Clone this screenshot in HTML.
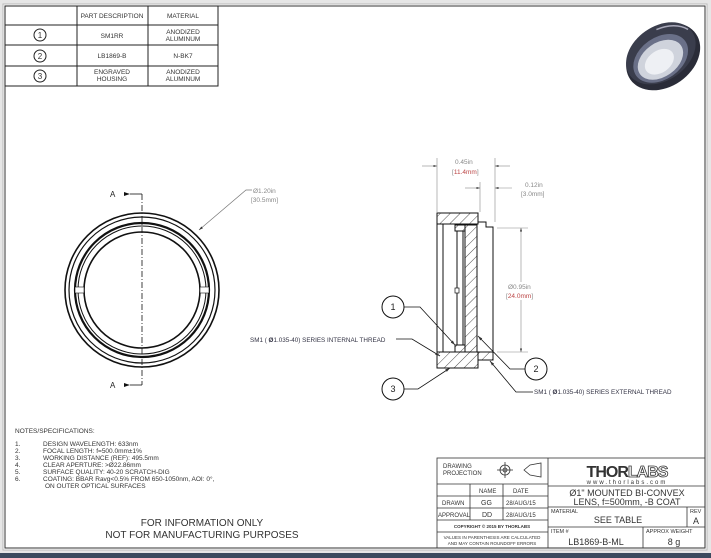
<!DOCTYPE html>
<html><head><meta charset="utf-8"><style>
html,body{margin:0;padding:0;background:#fff}
svg{display:block}
text{font-family:"Liberation Sans",sans-serif}
</style></head><body>
<svg width="711" height="558" viewBox="0 0 711 558" xmlns="http://www.w3.org/2000/svg">
<defs>
<pattern id="h" width="7" height="7" patternUnits="userSpaceOnUse" patternTransform="rotate(45)"><line x1="0" y1="0" x2="0" y2="7" stroke="#222" stroke-width="0.8"/></pattern>
<marker id="a" viewBox="0 0 10 10" refX="10" refY="5" markerWidth="6" markerHeight="6" orient="auto-start-reverse"><path d="M0,2 L10,5 L0,8z" fill="#333"/></marker>
</defs>
<rect x="0" y="0" width="711" height="558" fill="#e6e6e6"/>
<rect x="0" y="553" width="711" height="5" fill="#3b4a5e"/>
<rect x="3" y="4" width="704" height="546" fill="#fff" stroke="#bbb"/>
<rect x="5" y="6" width="700" height="542" fill="#fff" stroke="#333" stroke-width="1"/>
<!-- parts table -->
<g stroke="#222" stroke-width="1" fill="none">
<rect x="5" y="6" width="213" height="80"/>
<line x1="77" y1="6" x2="77" y2="86"/><line x1="148" y1="6" x2="148" y2="86"/>
<line x1="5" y1="25" x2="218" y2="25"/><line x1="5" y1="45" x2="218" y2="45"/><line x1="5" y1="66" x2="218" y2="66"/>
<circle cx="40" cy="35" r="6"/><circle cx="40" cy="56" r="6"/><circle cx="40" cy="76" r="6"/>
</g>
<g font-size="6.5" fill="#333" text-anchor="middle">
<text x="40" y="38" font-size="8">1</text><text x="40" y="59" font-size="8">2</text><text x="40" y="79" font-size="8">3</text>
<text x="112" y="18">PART DESCRIPTION</text><text x="183" y="18">MATERIAL</text>
<text x="112" y="38">SM1RR</text><text x="183" y="34">ANODIZED</text><text x="183" y="41">ALUMINUM</text>
<text x="112" y="58">LB1869-B</text><text x="183" y="58">N-BK7</text>
<text x="112" y="74">ENGRAVED</text><text x="112" y="81">HOUSING</text><text x="183" y="74">ANODIZED</text><text x="183" y="81">ALUMINUM</text>
</g>
<!-- photo -->
<g transform="translate(662,55) rotate(-35)">
<ellipse cx="0" cy="2" rx="40" ry="30" fill="#2a2c38"/>
<ellipse cx="0" cy="-2" rx="38" ry="27" fill="#3a3d4c"/>
<ellipse cx="-3" cy="2" rx="30" ry="21" fill="#6a7088"/>
<ellipse cx="-4" cy="3" rx="25" ry="17" fill="#cfd3dc"/>
<ellipse cx="-6" cy="4" rx="16" ry="11" fill="#eef0f4"/>
<path d="M10,-24 A38,27 0 0 1 36,-6" stroke="#aab" stroke-width="1.5" fill="none"/>
</g>
<!-- front view -->
<g stroke="#111" fill="none">
<circle cx="142" cy="290" r="77" stroke-width="1.6"/>
<circle cx="142" cy="290" r="73" stroke-width="1.2"/>
<circle cx="142" cy="290" r="67" stroke-width="2.2"/>
<circle cx="142" cy="290" r="64" stroke-width="1"/>
<circle cx="142" cy="290" r="58" stroke-width="1.6"/>
<line x1="142" y1="194" x2="142" y2="385" stroke-dasharray="6,2,1,2" stroke-width="0.8"/>
<line x1="142" y1="194" x2="130" y2="194" stroke-width="0.8"/>
<line x1="142" y1="385" x2="130" y2="385" stroke-width="0.8"/>
</g>
<rect x="75" y="287" width="9" height="6" fill="#fff" stroke="#111" stroke-width="0.6"/>
<rect x="200" y="287" width="9" height="6" fill="#fff" stroke="#111" stroke-width="0.6"/>
<path d="M130,194 l-6,-2 v4z M130,385 l-6,-2 v4z" fill="#111"/>
<text x="110" y="197" font-size="8" fill="#222">A</text>
<text x="110" y="388" font-size="8" fill="#222">A</text>
<polyline points="252,190 246,190 199,230" fill="none" stroke="#777" stroke-width="0.7" marker-end="url(#a)"/>
<text x="253" y="193" font-size="6.5" fill="#888">Ø1.20in</text>
<text x="251" y="202" font-size="6.5" fill="#888">[30.5mm]</text>
<!-- section view -->
<g stroke="#111" stroke-width="1">
<rect x="437" y="213" width="41" height="11" fill="url(#h)"/>
<rect x="437" y="352" width="41" height="16" fill="url(#h)"/>
<rect x="437" y="224" width="6" height="128" fill="#fff"/>
<rect x="465" y="225" width="12" height="127" fill="url(#h)"/>
<rect x="455" y="225" width="10" height="6" fill="url(#h)"/>
<rect x="455" y="345" width="10" height="7" fill="url(#h)"/>
<rect x="457" y="231" width="6" height="114" fill="#fff"/>
<rect x="478" y="352" width="15" height="8" fill="url(#h)"/>
<polyline points="478,222 486,222 486,227 493,227 493,352" fill="none"/>
<line x1="443" y1="224" x2="455" y2="224"/>
</g>
<rect x="455" y="288" width="4" height="5" fill="#fff" stroke="#111" stroke-width="0.7"/>
<!-- dims -->
<g stroke="#888" stroke-width="0.6" fill="none">
<line x1="437" y1="212" x2="437" y2="158"/><line x1="495" y1="222" x2="495" y2="158"/>
<line x1="480" y1="212" x2="480" y2="182"/>
<line x1="422" y1="166" x2="437" y2="166" marker-end="url(#a)"/><line x1="510" y1="166" x2="495" y2="166" marker-end="url(#a)"/>
<line x1="465" y1="188" x2="480" y2="188" marker-end="url(#a)"/><line x1="512" y1="188" x2="495" y2="188" marker-end="url(#a)"/>
<line x1="497" y1="228" x2="528" y2="228"/><line x1="497" y1="352" x2="528" y2="352"/>
<line x1="521" y1="282" x2="521" y2="228" marker-end="url(#a)"/><line x1="521" y1="300" x2="521" y2="352" marker-end="url(#a)"/>
</g>
<g font-size="6.5" fill="#888">
<text x="455" y="164">0.45in</text><text x="452" y="174">[<tspan fill="#b44">11.4mm</tspan>]</text>
<text x="525" y="187">0.12in</text><text x="521" y="196">[3.0mm]</text>
<text x="508" y="289">Ø0.95in</text><text x="506" y="298">[<tspan fill="#b44">24.0mm</tspan>]</text>
</g>
<!-- balloons -->
<g stroke="#111" fill="#fff" stroke-width="1">
<circle cx="393" cy="307" r="11"/><circle cx="536" cy="369" r="11"/><circle cx="393" cy="389" r="11"/>
</g>
<g stroke="#111" fill="none" stroke-width="0.8">
<polyline points="404,307 420,307 455,345" marker-end="url(#a)"/>
<polyline points="525,369 510,369 478,336" marker-end="url(#a)"/>
<polyline points="404,389 418,389 450,368" marker-end="url(#a)"/>
<polyline points="396,339 412,339 440,356" marker-end="url(#a)"/>
<polyline points="533,392 516,392 490,361" marker-end="url(#a)"/>
</g>
<g font-size="9" fill="#222" text-anchor="middle"><text x="393" y="310">1</text><text x="536" y="372">2</text><text x="393" y="392">3</text></g>
<text x="250" y="342" font-size="6.3" fill="#334">SM1 ( <tspan font-weight="bold">Ø</tspan>1.035-40) SERIES INTERNAL THREAD</text>
<text x="534" y="394" font-size="6.3" fill="#334">SM1 ( <tspan font-weight="bold">Ø</tspan>1.035-40) SERIES EXTERNAL THREAD</text>
<!-- notes -->
<g font-size="6.5" fill="#333">
<text x="15" y="433">NOTES/SPECIFICATIONS:</text>
<text x="15" y="446">1.</text><text x="43" y="446">DESIGN WAVELENGTH: 633nm</text>
<text x="15" y="453">2.</text><text x="43" y="453">FOCAL LENGTH: f=500.0mm±1%</text>
<text x="15" y="460">3.</text><text x="43" y="460">WORKING DISTANCE (REF): 495.5mm</text>
<text x="15" y="467">4.</text><text x="43" y="467">CLEAR APERTURE: &gt;Ø22.86mm</text>
<text x="15" y="474">5.</text><text x="43" y="474">SURFACE QUALITY: 40-20 SCRATCH-DIG</text>
<text x="15" y="481">6.</text><text x="43" y="481">COATING: BBAR Ravg&lt;0.5% FROM 650-1050nm, AOI: 0°,</text>
<text x="45" y="488">ON OUTER OPTICAL SURFACES</text>
</g>
<g font-size="10" fill="#333" text-anchor="middle">
<text x="202" y="526">FOR INFORMATION ONLY</text>
<text x="202" y="538">NOT FOR MANUFACTURING PURPOSES</text>
</g>
<!-- title block -->
<g stroke="#333" stroke-width="0.8" fill="none">
<rect x="437" y="458" width="268" height="90"/>
<line x1="548" y1="458" x2="548" y2="548"/>
<line x1="437" y1="484" x2="548" y2="484"/><line x1="437" y1="496" x2="548" y2="496"/>
<line x1="437" y1="508" x2="548" y2="508"/><line x1="437" y1="520" x2="548" y2="520"/>
<line x1="437" y1="532" x2="548" y2="532"/>
<line x1="470" y1="484" x2="470" y2="520"/><line x1="503" y1="484" x2="503" y2="520"/>
<line x1="548" y1="486" x2="705" y2="486"/><line x1="548" y1="507" x2="705" y2="507"/>
<line x1="548" y1="527" x2="705" y2="527"/>
<line x1="687" y1="507" x2="687" y2="527"/><line x1="643" y1="527" x2="643" y2="548"/>
<circle cx="505" cy="470" r="5"/><circle cx="505" cy="470" r="2"/>
<line x1="497" y1="470" x2="513" y2="470"/><line x1="505" y1="462" x2="505" y2="478"/>
<path d="M524,470 L530,465 L541,463 L541,477 L530,475 Z"/>
</g>
<g fill="#333" font-size="6">
<text x="443" y="468">DRAWING</text><text x="443" y="475">PROJECTION</text>
<text x="479" y="493">NAME</text><text x="513" y="493">DATE</text>
<text x="442" y="505">DRAWN</text><text x="481" y="505" font-size="7">GG</text><text x="506" y="505">28/AUG/15</text>
<text x="438" y="517">APPROVAL</text><text x="482" y="517" font-size="7">DD</text><text x="506" y="517">28/AUG/15</text>
<text x="492" y="528" font-size="4.5" text-anchor="middle" font-weight="bold">COPYRIGHT © 2015 BY THORLABS</text>
<text x="492" y="539" font-size="4.5" text-anchor="middle">VALUES IN PARENTHESIS ARE CALCULATED</text>
<text x="492" y="545" font-size="4.5" text-anchor="middle">AND MAY CONTAIN ROUNDOFF ERRORS</text>
<text x="627" y="477" font-size="16" font-weight="bold" text-anchor="middle" letter-spacing="-1">THOR<tspan fill="#fff" stroke="#333" stroke-width="0.8">LABS</tspan></text>
<text x="627" y="484" font-size="6" text-anchor="middle" letter-spacing="2">www.thorlabs.com</text>
<text x="627" y="496" font-size="9" text-anchor="middle">Ø1" MOUNTED BI-CONVEX</text>
<text x="627" y="505" font-size="9" text-anchor="middle">LENS, f=500mm, -B COAT</text>
<text x="551" y="513" font-size="5.5">MATERIAL</text>
<text x="618" y="523" font-size="9" text-anchor="middle">SEE TABLE</text>
<text x="690" y="513" font-size="5.5">REV</text>
<text x="696" y="524" font-size="9" text-anchor="middle">A</text>
<text x="551" y="533" font-size="5.5">ITEM #</text>
<text x="596" y="545" font-size="9" text-anchor="middle">LB1869-B-ML</text>
<text x="646" y="533" font-size="5.5">APPROX WEIGHT</text>
<text x="674" y="545" font-size="9" text-anchor="middle">8 g</text>
</g>
</svg>
</body></html>
